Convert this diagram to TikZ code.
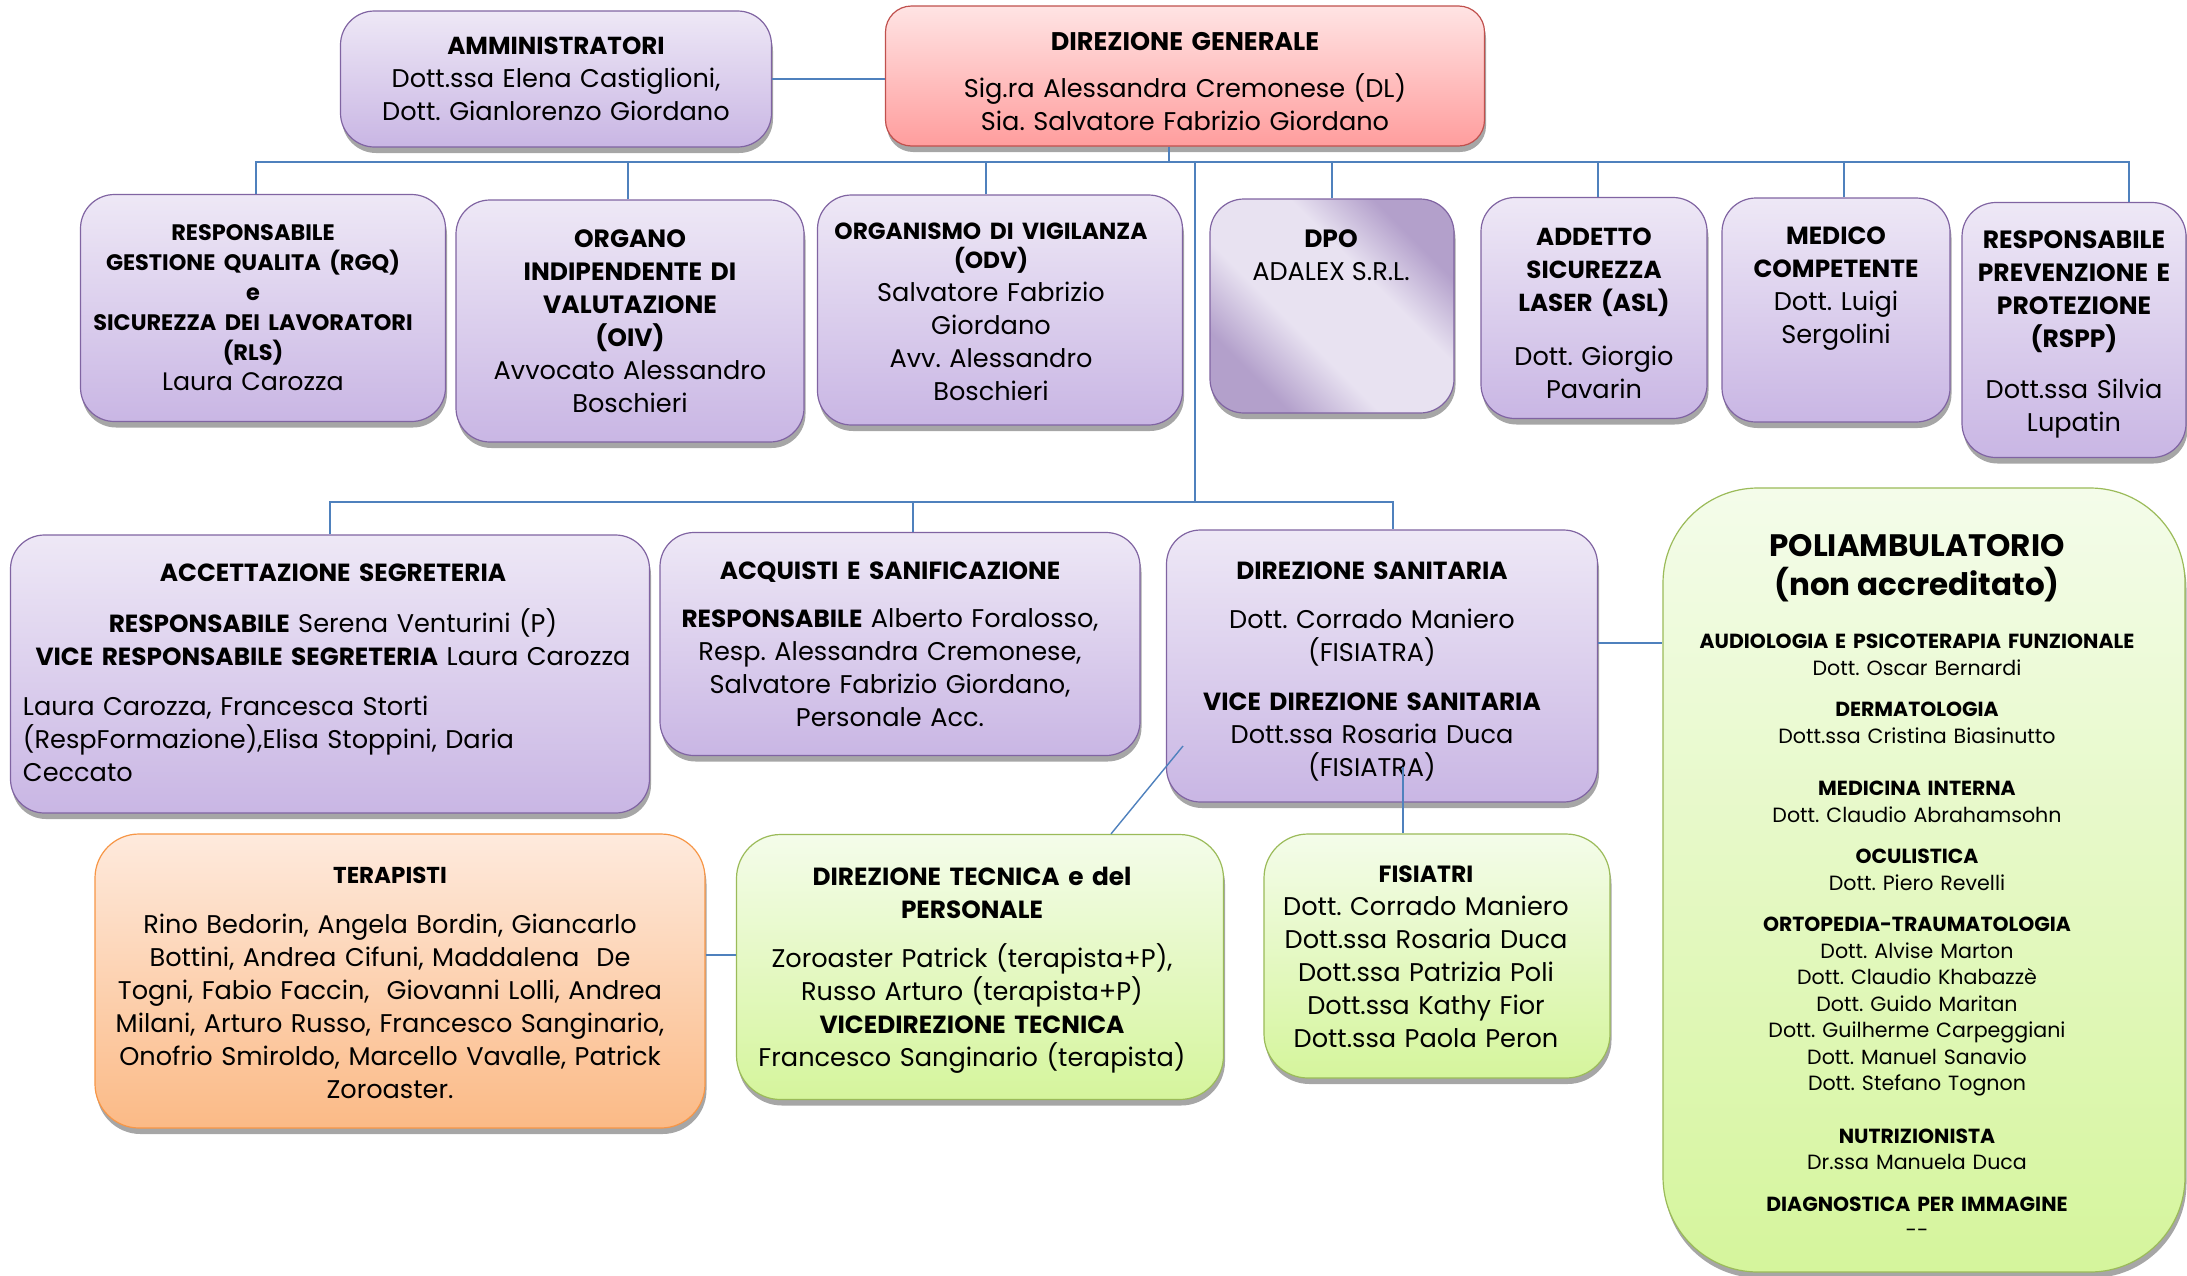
\documentclass[tikz,border=0pt]{standalone}
\usepackage{fontspec}
\setmainfont{Poppins}
\usetikzlibrary{positioning,shadows}
\frenchspacing

\definecolor{linkblue}{HTML}{4F81BD}
\definecolor{violaedge}{HTML}{8064A2}
\definecolor{violatop}{HTML}{EEE8F6}
\definecolor{violabot}{HTML}{C9B6E4}
\definecolor{rossoedge}{HTML}{C0504D}
\definecolor{rossotop}{HTML}{FFE4E4}
\definecolor{rossobot}{HTML}{FF9D9D}
\definecolor{verdeedge}{HTML}{9BBB59}
\definecolor{verdetop}{HTML}{F4FCEA}
\definecolor{verdebot}{HTML}{D5F59C}
\definecolor{arancioedge}{HTML}{F79646}
\definecolor{aranciotop}{HTML}{FEEADD}
\definecolor{aranciobot}{HTML}{FBBA86}
\definecolor{dpodark}{HTML}{B3A0CB}
\definecolor{dpolight}{HTML}{E8E2F1}
\pgfdeclarehorizontalshading{dpoband}{100bp}{color(0bp)=(dpodark); color(27bp)=(dpodark);
  color(41bp)=(dpolight); color(60bp)=(dpolight); color(73bp)=(dpodark); color(100bp)=(dpodark)}

\newcommand{\bodyfont}{\fontsize{25.6}{33}\selectfont}
\newcommand{\polifont}{\fontsize{20.6}{26.5}\selectfont}
\newcommand{\hd}[2][24.8]{{\fontsize{#1}{\baselineskip}\selectfont\bfseries #2}}

\tikzset{
  office/.style={draw, line width=1.2pt, rounded corners=34pt,
    drop shadow={shadow xshift=1.5pt, shadow yshift=-6pt, fill=black, opacity=0.35}},
  viola/.style={office, draw=violaedge, top color=violatop, bottom color=violabot},
  rosso/.style={office, draw=rossoedge, top color=rossotop, bottom color=rossobot, rounded corners=26pt},
  verde/.style={office, draw=verdeedge, top color=verdetop, bottom color=verdebot, rounded corners=44pt},
  arancio/.style={office, draw=arancioedge, top color=aranciotop, bottom color=aranciobot, rounded corners=44pt},
  dposhade/.style={office, draw=violaedge, shading=dpoband, shading angle=45},
  link/.style={draw=linkblue, line width=1.4pt},
  testo/.style={align=center, font=\bodyfont, inner sep=0pt},
}

\begin{document}
\begin{tikzpicture}[x=1pt,y=-1pt]
\fill[white] (0,0) rectangle (2187,1275);
\useasboundingbox (0,0) rectangle (2187,1275);

% vertice
\node[viola, minimum width=431pt, minimum height=136pt] (amm) at (556,79) {};
\node[testo, text width=420pt] (amm-t) at (556,79)
  {\hd[24.6]{AMMINISTRATORI}\\Dott.ssa Elena Castiglioni,\\Dott. Gianlorenzo Giordano};
\node[rosso, minimum width=599pt, minimum height=140pt] (dg) at (1185,76) {};
\node[testo, text width=580pt] (dg-t) at (1185,82)
  {\hd[25.5]{DIREZIONE GENERALE}\\[14pt]Sig.ra Alessandra Cremonese (DL)\\Sia. Salvatore Fabrizio Giordano};

% staff
\node[viola, minimum width=365pt, minimum height=227pt] (rgq) at (263,308) {};
\node[testo, text width=355pt, font={\fontsize{25.3}{30}\selectfont}] (rgq-t) at (253,308)
  {\hd[22.4]{RESPONSABILE\\GESTIONE QUALITA (RGQ)\\e\\SICUREZZA DEI LAVORATORI\\(RLS)}\\Laura Carozza};
\node[viola, minimum width=348pt, minimum height=242pt] (oiv) at (630,321) {};
\node[testo, text width=340pt] (oiv-t) at (630,321)
  {\hd[25]{ORGANO\\INDIPENDENTE DI\\VALUTAZIONE\\(OIV)}\\Avvocato Alessandro\\Boschieri};
\node[viola, minimum width=365pt, minimum height=230pt] (odv) at (1000,310) {};
\node[testo, text width=355pt] (odv-t) at (991,312)
  {{\fontsize{23.3}{29}\selectfont\bfseries ORGANISMO DI VIGILANZA\\(ODV)\par}
   Salvatore Fabrizio\\Giordano\\Avv. Alessandro\\Boschieri};
\node[dposhade, minimum width=244pt, minimum height=214pt] (dpo) at (1332,306) {};
\node[testo] (dpo-t) at (1331,255) {\hd[25]{DPO}\\ADALEX S.R.L.};
\node[viola, minimum width=226pt, minimum height=221pt] (asl) at (1594,308) {};
\node[testo, text width=220pt] (asl-t) at (1594,313)
  {\hd[24.6]{ADDETTO\\SICUREZZA\\LASER (ASL)}\\[21pt]Dott. Giorgio\\Pavarin};
\node[viola, minimum width=228pt, minimum height=224pt] (med) at (1836,310) {};
\node[testo, text width=220pt] (med-t) at (1836,289) {\hd{MEDICO\\COMPETENTE}\\Dott. Luigi\\Sergolini};
\node[viola, minimum width=224pt, minimum height=255pt] (rspp) at (2074,330) {};
\node[testo, text width=218pt] (rspp-t) at (2074,334)
  {\hd[25]{RESPONSABILE\\PREVENZIONE E\\PROTEZIONE\\(RSPP)}\\[18pt]Dott.ssa Silvia\\Lupatin};

% uffici
\node[viola, minimum width=639pt, minimum height=278pt] (acc) at (330,674) {};
\node[testo, text width=620pt] (acc-t) at (333,673)
  {\hd{ACCETTAZIONE SEGRETERIA}\\[18pt]\hd{RESPONSABILE} Serena Venturini (P)\\\hd{VICE RESPONSABILE SEGRETERIA} Laura Carozza\par
   \vspace{17pt}\parbox[t]{620pt}{\raggedright Laura Carozza, Francesca Storti\\(RespFormazione),Elisa Stoppini, Daria\\Ceccato}};
\node[viola, minimum width=480pt, minimum height=223pt] (acq) at (900,644) {};
\node[testo, text width=470pt] (acq-t) at (890,644)
  {\hd{ACQUISTI E SANIFICAZIONE}\\[15pt]\hd{RESPONSABILE} Alberto Foralosso,\\Resp. Alessandra Cremonese,\\Salvatore Fabrizio Giordano,\\Personale Acc.};
\node[viola, minimum width=431pt, minimum height=272pt] (ds) at (1382,666) {};
\node[testo, text width=420pt] (ds-t) at (1372,672)
  {\hd{DIREZIONE SANITARIA}\\[16pt]Dott. Corrado Maniero\\(FISIATRA)\\[16pt]\hd{VICE DIREZIONE SANITARIA}\\Dott.ssa Rosaria Duca\\(FISIATRA)};
\node[verde, rounded corners=95pt, minimum width=522pt, minimum height=784pt] (poli) at (1924,880) {};
\node[testo, text width=500pt, font=\polifont] (poli-t) at (1917,886)
  {{\fontsize{31}{39}\selectfont\bfseries POLIAMBULATORIO\\(non accreditato)\par}\vspace{26.6pt}
   \hd[20.4]{AUDIOLOGIA E PSICOTERAPIA FUNZIONALE}\\Dott. Oscar Bernardi\\[15pt]
   \hd[20.4]{DERMATOLOGIA}\\Dott.ssa Cristina Biasinutto\\[26pt]
   \hd[20.4]{MEDICINA INTERNA}\\Dott. Claudio Abrahamsohn\\[15pt]
   \hd[20.4]{OCULISTICA}\\Dott. Piero Revelli\\[15pt]
   \hd[20.4]{ORTOPEDIA-TRAUMATOLOGIA}\\Dott. Alvise Marton\\Dott. Claudio Khabazzè\\Dott. Guido Maritan\\Dott. Guilherme Carpeggiani\\Dott. Manuel Sanavio\\Dott. Stefano Tognon\\[26pt]
   \hd[20.4]{NUTRIZIONISTA}\\Dr.ssa Manuela Duca\\[15pt]
   \hd[20.4]{DIAGNOSTICA PER IMMAGINE}\\{-}{-}};

% tecnici
\node[arancio, minimum width=610pt, minimum height=294pt] (ter) at (400,981) {};
\node[testo, text width=600pt] (ter-t) at (390,983)
  {\hd[23]{TERAPISTI}\\[17pt]Rino Bedorin, Angela Bordin, Giancarlo\\Bottini, Andrea Cifuni, Maddalena\ \ De\\Togni, Fabio Faccin,\ \ Giovanni Lolli, Andrea\\Milani, Arturo Russo, Francesco Sanginario,\\Onofrio Smiroldo, Marcello Vavalle, Patrick\\Zoroaster.};
\node[verde, minimum width=487pt, minimum height=265pt] (dt) at (980,967) {};
\node[testo, text width=478pt] (dt-t) at (972,970)
  {\hd{DIREZIONE TECNICA e del\\PERSONALE}\\[16pt]Zoroaster Patrick (terapista+P),\\Russo Arturo (terapista+P)\\\hd{VICEDIREZIONE TECNICA}\\Francesco Sanginario (terapista)};
\node[verde, minimum width=346pt, minimum height=244pt] (fis) at (1437,956) {};
\node[testo, text width=338pt] (fis-t) at (1426,957)
  {\hd[23.5]{FISIATRI}\\Dott. Corrado Maniero\\Dott.ssa Rosaria Duca\\Dott.ssa Patrizia Poli\\Dott.ssa Kathy Fior\\Dott.ssa Paola Peron};

% collegamenti
\coordinate (bus) at (1195,162);
\coordinate (bus2) at (1195,502);
\draw[link] (amm.east) -- (amm.east -| dg.west);
\draw[link] ([xshift=-16pt]dg.south) -- ([xshift=-16pt]dg.south |- bus);
\draw[link] ([xshift=-7pt]rgq.north) |- ([xshift=55pt]rspp.north |- bus) -- ([xshift=55pt]rspp.north);
\foreach \n/\dx in {oiv/-2, odv/-14, dpo/0, asl/4, med/8}
  \draw[link] ([xshift=\dx pt]\n.north) -- ([xshift=\dx pt]\n.north |- bus);
\draw[link] (bus) -- (bus2);
\draw[link] (acc.north) |- ([xshift=11pt]ds.north |- bus2) -- ([xshift=11pt]ds.north);
\draw[link] ([xshift=13pt]acq.north) -- ([xshift=13pt]acq.north |- bus2);
\coordinate (ds-out) at ([yshift=23pt]ds.east);
\draw[link] (ds-out) -- (ds-out -| poli.west);
\coordinate (ds-diag) at (1183,746);
\draw[link] (ds-diag) -- ([xshift=131pt]dt.north);
\coordinate (ds-fis) at (1403,767);
\draw[link] (ds-fis) -- (ds-fis |- fis.north);
\coordinate (ter-out) at ([yshift=26pt]ter.east);
\draw[link] (ter-out) -- (ter-out -| dt.west);
\end{tikzpicture}
\end{document}
